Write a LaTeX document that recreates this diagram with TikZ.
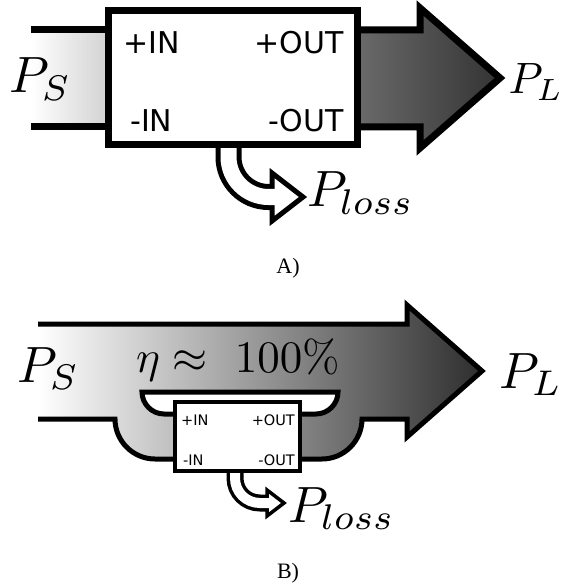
\documentclass[tikz,border=0pt]{standalone}
\usepackage{fontspec}
\newfontfamily\portfont{DejaVu Sans}
\newfontfamily\capfont{Liberation Serif}
\usetikzlibrary{positioning}
\tikzset{
  conv/.style={draw, fill=white, line width=7pt, minimum width=249pt, minimum height=134pt, inner sep=0pt},
  convsmall/.style={draw, fill=white, line width=4pt, minimum width=125pt, minimum height=69pt, inner sep=0pt},
  port/.style={font=\portfont\fontsize{30}{30}\selectfont, inner sep=0pt},
  portsmall/.style={font=\portfont\fontsize{14.5}{14.5}\selectfont, inner sep=0pt},
  power/.style={scale=5.1, inner sep=0pt, anchor=base west},
  caption/.style={font=\capfont\fontsize{22}{22}\selectfont, inner sep=0pt},
  flowA/.style={line width=7pt, line join=miter},
  flowB/.style={line width=5pt, line join=miter},
  lossouter/.style={line width=#1, black},
  lossinner/.style={line width=#1, white},
  losshead/.style={draw, fill=white, line width=#1, line join=miter}
}

\begin{document}
\begin{tikzpicture}[x=1pt,y=-1pt]
  \useasboundingbox (0,0) rectangle (566,585);

  % A) converter between source and load
  \shade[left color=white, right color=black!18] (31,30) rectangle (110,127);
  \draw[flowA] (31,30) -- (110,30);
  \draw[flowA] (31,127) -- (110,127);
  \shade[flowA, draw, left color=black!58, right color=black!80]
    (354,30) -- (420,30) -- (420,8) -- (500,78) -- (420,148) -- (420,127) -- (354,127);
  \draw[lossouter=26pt] (228.5,140) -- (228.5,157) .. controls (228.5,179) and (246.5,197) .. (268.5,197) -- (272,197);
  \draw[losshead=5pt] (272,173) -- (303,197) -- (272,221) -- cycle;
  \draw[lossinner=16pt] (228.5,140) -- (228.5,157) .. controls (228.5,179) and (246.5,197) .. (268.5,197) -- (277,197);
  \node[conv] (convA) at (232.5,78) {};
  \node[port, anchor=west] (pinA) at (123,43) {+IN};
  \node[port, anchor=east] (poutA) at (344,43) {+OUT};
  \node[port, anchor=west] (ninA) at (130,121) {-IN};
  \node[port, anchor=east] (noutA) at (344,121) {-OUT};
  \node[power] (psA) at (8,93) {$P_S$};
  \node[power, anchor=base east, scale=0.86] (plA) at (564,94) {$P_L$};
  \node[power] (plossA) at (306,207) {$P_{loss}$};
  \node[caption] (capA) at (288,268) {A)};

  % B) converter carrying only part of the power
  \shade[flowB, draw, left color=white, right color=black!82]
    (38,324) -- (407,324) -- (407,305) -- (482,371) -- (407,437) -- (407,419) -- (362,419)
    .. controls (362,441) and (344,459) .. (322,459) -- (155,459)
    .. controls (133,459) and (115,441) .. (115,419) -- (38,419);
  \draw[flowB, fill=white] (176,414) -- (164,414) .. controls (152,414) and (142,404) .. (142,392)
    -- (338,392) .. controls (338,404) and (328,414) .. (316,414) -- (300,414);
  \draw[lossouter=17pt] (235,465) -- (235,478) .. controls (235,492) and (246,503) .. (260,503) -- (267,503);
  \draw[losshead=3.5pt] (267,490) -- (284,503) -- (267,516) -- cycle;
  \draw[lossinner=10pt] (235,465) -- (235,478) .. controls (235,492) and (246,503) .. (260,503) -- (271,503);
  \node[convsmall] (convB) at (237.5,436.5) {};
  \node[portsmall, anchor=west] (pinB) at (181,420) {+IN};
  \node[portsmall, anchor=east] (poutB) at (295,420) {+OUT};
  \node[portsmall, anchor=west] (ninB) at (183,460) {-IN};
  \node[portsmall, anchor=east] (noutB) at (295,460) {-OUT};
  \node[scale=4.5, inner sep=0pt, anchor=base] (eff) at (238,372) {$\eta \approx\ 100\%$};
  \node[power] (psB) at (16,382) {$P_S$};
  \node[power] (plB) at (498,388) {$P_L$};
  \node[power] (plossB) at (287,522) {$P_{loss}$};
  \node[caption] (capB) at (288,573) {B)};
\end{tikzpicture}
\end{document}
